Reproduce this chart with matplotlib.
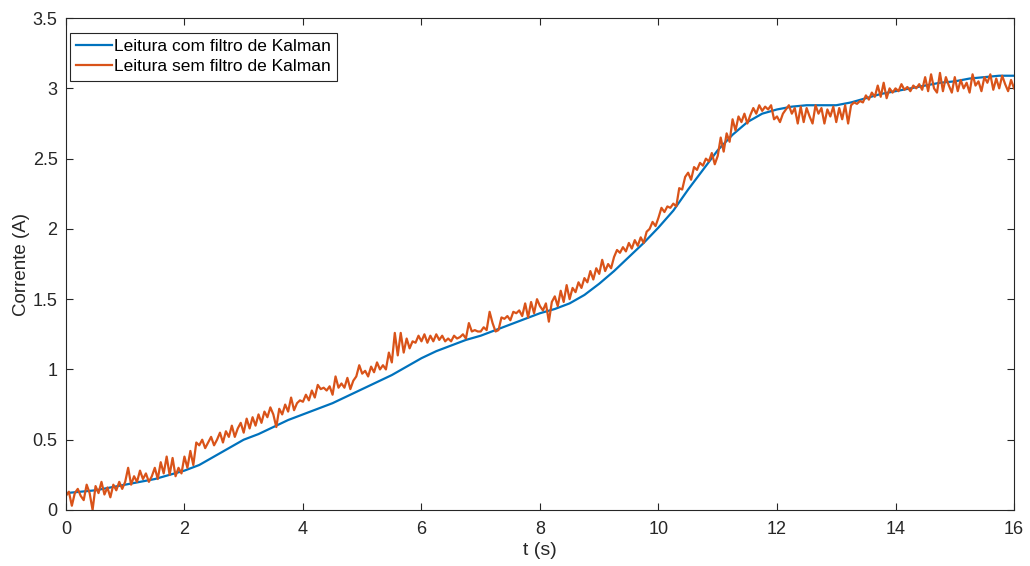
import numpy as np
import matplotlib.pyplot as plt

# leitura com filtro (a cada 0.25 s)
t_kalman = np.arange(0, 16.01, 0.25)
i_kalman = [0.12, 0.13, 0.14, 0.16, 0.18, 0.20, 0.22, 0.25, 0.28, 0.32, 0.38, 0.44,
            0.50, 0.54, 0.59, 0.64, 0.68, 0.72, 0.76, 0.81, 0.86, 0.91, 0.96, 1.02,
            1.08, 1.13, 1.17, 1.21, 1.24, 1.28, 1.32, 1.36, 1.40, 1.43, 1.47, 1.53,
            1.61, 1.70, 1.80, 1.90, 2.01, 2.13, 2.28, 2.42, 2.56, 2.67, 2.76, 2.82,
            2.85, 2.87, 2.88, 2.88, 2.88, 2.90, 2.93, 2.96, 2.98, 3.00, 3.02, 3.04,
            3.05, 3.07, 3.08, 3.09, 3.09]

# leitura sem filtro (a cada 0.05 s)
t_bruto = np.arange(0, 16.001, 0.05)
i_bruto = [
    0.10, 0.13, 0.03, 0.12, 0.15, 0.10, 0.07, 0.18, 0.12, 0.00, 0.17, 0.12, 0.20, 0.11, 0.16, 0.09, 0.18, 0.14, 0.20, 0.15,
    0.20, 0.30, 0.18, 0.24, 0.20, 0.28, 0.22, 0.26, 0.20, 0.24, 0.30, 0.22, 0.34, 0.26, 0.38, 0.25, 0.37, 0.24, 0.30, 0.26,
    0.38, 0.30, 0.42, 0.32, 0.48, 0.46, 0.50, 0.44, 0.48, 0.52, 0.46, 0.50, 0.55, 0.48, 0.56, 0.52, 0.60, 0.52, 0.58, 0.62,
    0.55, 0.65, 0.58, 0.66, 0.60, 0.68, 0.62, 0.70, 0.66, 0.73, 0.68, 0.59, 0.72, 0.68, 0.75, 0.70, 0.80, 0.71, 0.76, 0.78,
    0.77, 0.82, 0.78, 0.85, 0.80, 0.89, 0.86, 0.87, 0.85, 0.88, 0.82, 0.95, 0.87, 0.90, 0.87, 0.94, 0.86, 0.92, 0.95, 1.03,
    0.97, 0.99, 0.95, 1.02, 0.98, 1.05, 1.00, 1.03, 1.00, 1.12, 1.05, 1.26, 1.10, 1.26, 1.12, 1.22, 1.15, 1.20, 1.19, 1.24,
    1.20, 1.25, 1.19, 1.24, 1.20, 1.25, 1.21, 1.24, 1.20, 1.22, 1.20, 1.24, 1.22, 1.23, 1.25, 1.22, 1.33, 1.27, 1.28, 1.27,
    1.27, 1.30, 1.28, 1.41, 1.33, 1.27, 1.28, 1.37, 1.36, 1.38, 1.35, 1.41, 1.40, 1.42, 1.38, 1.47, 1.37, 1.48, 1.40, 1.50,
    1.45, 1.42, 1.47, 1.34, 1.48, 1.52, 1.45, 1.56, 1.48, 1.60, 1.50, 1.58, 1.55, 1.62, 1.58, 1.65, 1.62, 1.70, 1.64, 1.72,
    1.68, 1.78, 1.70, 1.75, 1.72, 1.80, 1.85, 1.83, 1.87, 1.84, 1.90, 1.86, 1.92, 1.88, 1.94, 1.90, 1.98, 2.00, 2.05, 2.02,
    2.08, 2.15, 2.12, 2.16, 2.15, 2.18, 2.16, 2.29, 2.28, 2.37, 2.40, 2.35, 2.44, 2.42, 2.47, 2.45, 2.50, 2.48, 2.54, 2.46,
    2.52, 2.65, 2.55, 2.68, 2.62, 2.78, 2.70, 2.80, 2.76, 2.82, 2.75, 2.81, 2.86, 2.82, 2.88, 2.84, 2.87, 2.85, 2.88, 2.78,
    2.80, 2.76, 2.82, 2.85, 2.88, 2.82, 2.86, 2.75, 2.87, 2.76, 2.86, 2.80, 2.75, 2.88, 2.82, 2.86, 2.75, 2.85, 2.80, 2.87,
    2.76, 2.86, 2.78, 2.88, 2.75, 2.88, 2.90, 2.89, 2.91, 2.90, 2.95, 2.92, 2.97, 2.94, 3.02, 2.94, 3.04, 2.93, 3.00, 2.97,
    3.00, 2.98, 3.03, 2.99, 3.01, 2.98, 3.02, 3.00, 3.03, 2.99, 3.08, 2.98, 3.10, 3.00, 2.97, 3.11, 2.98, 3.08, 3.02, 2.97,
    3.08, 2.98, 3.06, 3.00, 3.04, 2.97, 3.10, 3.02, 3.05, 2.98, 3.08, 3.04, 3.10, 2.99, 3.07, 3.00, 3.09, 3.03, 2.98, 3.06,
    3.00]

plt.rcParams['font.family'] = ['Liberation Sans', 'DejaVu Sans']
cinza = (0.15, 0.15, 0.15)

fig = plt.figure(figsize=(10.3, 5.66), dpi=100)
ax = fig.add_axes([0.064, 0.099, 0.9205, 0.869])

ax.plot(t_kalman, i_kalman, color=(0, 0.447, 0.741), lw=1.6,
        label='Leitura com filtro de Kalman')
ax.plot(t_bruto, i_bruto, color=(0.85, 0.325, 0.098), lw=1.6,
        label='Leitura sem filtro de Kalman')

ax.set_xlim(0, 16)
ax.set_ylim(0, 3.5)
ax.set_xticks(np.arange(0, 17, 2))
ax.set_yticks(np.arange(0, 3.6, 0.5))
ax.set_yticklabels(['0', '0.5', '1', '1.5', '2', '2.5', '3', '3.5'])
ax.tick_params(direction='in', top=True, right=True, labelsize=13,
               colors=cinza, length=5)
ax.tick_params(axis='x', pad=8)
ax.tick_params(axis='y', pad=6)
for s in ax.spines.values():
    s.set_color(cinza)
    s.set_linewidth(0.8)

ax.set_xlabel('t (s)', fontsize=14, color=cinza, labelpad=3)
ax.set_ylabel('Corrente (A)', fontsize=13.5, color=cinza, labelpad=2)

leg = ax.legend(loc='upper left', bbox_to_anchor=(0.004, 0.97), fontsize=12.5,
                fancybox=False, framealpha=1, edgecolor=cinza,
                handlelength=2.1, handletextpad=0.1,
                borderpad=0.35, labelspacing=0.3, borderaxespad=0.0)
leg.get_frame().set_linewidth(0.8)

fig.savefig('out.png', dpi=100)
